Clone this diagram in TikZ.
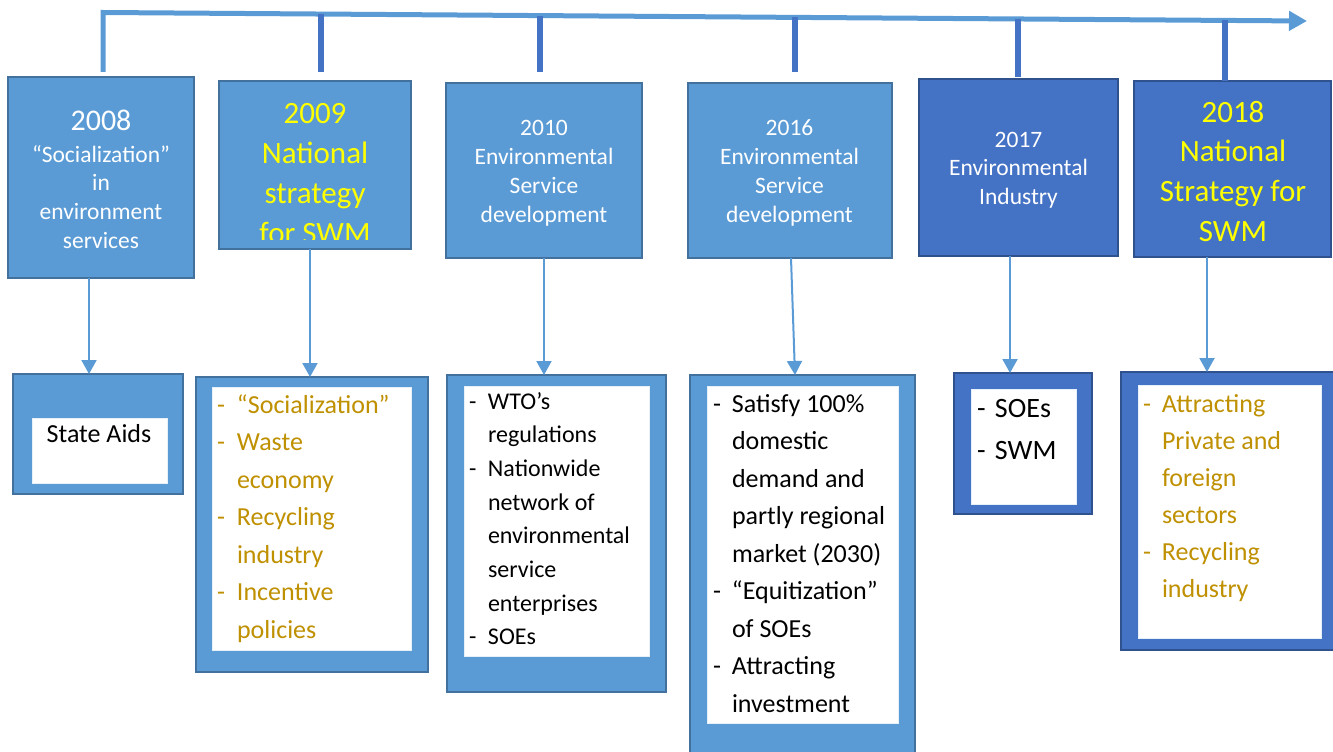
\documentclass[tikz,border=0pt]{standalone}
\usepackage{fontspec}
\setmainfont{Carlito}
\usetikzlibrary{arrows.meta,calc}
\definecolor{lb}{HTML}{5B9BD5}
\definecolor{lbd}{HTML}{41719C}
\definecolor{db}{HTML}{4472C4}
\definecolor{dbd}{HTML}{2F528F}
\definecolor{gold}{HTML}{BF9000}
\definecolor{yel}{HTML}{FFFF00}
\newlength\mydw
\newcommand\mydash{\makebox[\mydw][l]{-}}
\begin{document}
\begin{tikzpicture}[x=1pt,y=-1pt,
 box/.style={rectangle, inner sep=0pt, outer sep=0pt, line width=2.5pt, anchor=north west},
 lbox/.style={box, fill=lb, draw=lbd},
 dbox/.style={box, fill=db, draw=dbd},
 inbox/.style={box, fill=white, draw=white!85!lb, line width=0.6pt},
 txt/.style={inner sep=0pt, outer sep=0pt, anchor=base},
 ltxt/.style={inner sep=0pt, outer sep=0pt, anchor=base west},
 arr/.style={draw=lb, line width=2pt, -{Triangle[length=14pt,width=15pt]}},
 tline/.style={draw=lb, line width=5pt, -{Triangle[length=18pt,width=19pt]}},
 tickline/.style={draw=db, line width=5.5pt},
]
\useasboundingbox (0,0) rectangle (1333,752);

% ---------- top boxes ----------
\node[lbox, minimum width=186pt, minimum height=201pt] (t8) at (8,77) {};
\node[lbox, minimum width=192pt, minimum height=168pt] (t9) at (219,81) {};
\node[lbox, minimum width=196pt, minimum height=175pt] (t10) at (446,83) {};
\node[lbox, minimum width=204pt, minimum height=175pt] (t16) at (688,83) {};
\node[dbox, minimum width=199pt, minimum height=177pt] (t17) at (919,79) {};
\node[dbox, minimum width=197pt, minimum height=176pt] (t18) at (1134,81) {};

\node[txt, text=white, font=\fontsize{23.5}{28.7}\selectfont] (t8t) at (101,130)
 {\begin{tabular}[t]{@{}c@{}}{\fontsize{30}{32}\selectfont 2008}\\[3.3pt] “Socialization”\\ in\\ environment\\ services\end{tabular}};
\begin{scope}
\clip (221,83) rectangle (409,239);
\node[txt, text=yel, font=\fontsize{31}{40}\selectfont] (t9t) at (315,123)
 {\begin{tabular}[t]{@{}c@{}}2009\\ National\\ strategy\\ for SWM\end{tabular}};
\end{scope}
\node[txt, text=white, font=\fontsize{23.5}{29.3}\selectfont] (t10t) at (544,135)
 {\begin{tabular}[t]{@{}c@{}}2010\\ Environmental\\ Service\\ development\end{tabular}};
\node[txt, text=white, font=\fontsize{23.5}{29.3}\selectfont] (t16t) at (789.5,135)
 {\begin{tabular}[t]{@{}c@{}}2016\\ Environmental\\ Service\\ development\end{tabular}};
\node[txt, text=white, font=\fontsize{23.5}{28.7}\selectfont] (t17t) at (1018.5,147)
 {\begin{tabular}[t]{@{}c@{}}2017\\ Environmental\\ Industry\end{tabular}};
\node[txt, text=yel, font=\fontsize{31}{39.7}\selectfont] (t18t) at (1233,122)
 {\begin{tabular}[t]{@{}c@{}}2018\\ National\\ Strategy for\\ SWM\end{tabular}};

% ---------- timeline ----------
\coordinate (tl0) at (103,72);
\coordinate (tl1) at (103,12.5);
\coordinate (tl2) at (1307,21);
\draw[tline] (tl0) -- (tl1) -- (tl2);

\coordinate (k9) at (321,14);
\coordinate (k10) at (540,15.6);
\coordinate (k16) at (795,17.4);
\coordinate (k17) at (1018,19);
\coordinate (k18) at (1225,20.4);
\coordinate (e9) at ([yshift=9pt]t9.north);
\coordinate (e10) at ([yshift=11pt]t10.north);
\coordinate (e16) at ([yshift=11pt]t16.north);
\coordinate (e17) at ([yshift=2pt]t17.north);
\coordinate (e18) at (t18.north);
\draw[tickline] (k9) -- (k9 |- e9);
\draw[tickline] (k10) -- (k10 |- e10);
\draw[tickline] (k16) -- (k16 |- e16);
\draw[tickline] (k17) -- (k17 |- e17);
\draw[tickline] (k18) -- (k18 |- e18);

% ---------- lower boxes ----------
\node[lbox, line width=2pt, minimum width=170pt, minimum height=120pt] (l8) at (13,374) {};
\node[inbox, minimum width=135pt, minimum height=65pt] (i8) at (32,418) {};
\node[lbox, line width=2pt, minimum width=232pt, minimum height=295pt] (l9) at (196,377) {};
\node[inbox, minimum width=199pt, minimum height=263pt] (i9) at (212,387) {};
\node[lbox, line width=2pt, minimum width=219pt, minimum height=317pt] (l10) at (447,375) {};
\node[inbox, minimum width=185pt, minimum height=270pt] (i10) at (464,386) {};
\node[lbox, line width=2pt, minimum width=225pt, minimum height=390pt] (l16) at (690,375) {};
\node[inbox, minimum width=191pt, minimum height=337pt] (i16) at (707,386) {};
\node[dbox, line width=2pt, minimum width=138pt, minimum height=141pt] (l17) at (954,373) {};
\node[inbox, minimum width=105pt, minimum height=115pt] (i17) at (971,389) {};
\node[dbox, line width=2pt, minimum width=226pt, minimum height=278pt] (l18) at (1121,372) {};
\node[inbox, minimum width=183pt, minimum height=253pt] (i18) at (1138,385) {};

\node[txt, font=\fontsize{26}{30}\selectfont] (l8t) at (99,442) {State Aids};

\node[ltxt, text=gold, font=\fontsize{26}{37.5}\selectfont] (l9t) at (217,413)
 {\setlength\mydw{20pt}\begin{tabular}[t]{@{}l@{}l@{}}
 \mydash & “Socialization”\\
 \mydash & Waste\\ & economy\\
 \mydash & Recycling\\ & industry\\
 \mydash & Incentive\\ & policies\end{tabular}};

\node[ltxt, font=\fontsize{24}{33.7}\selectfont] (l10t) at (469,409)
 {\setlength\mydw{19pt}\begin{tabular}[t]{@{}l@{}l@{}}
 \mydash & WTO’s\\ & regulations\\
 \mydash & Nationwide\\ & network of\\ & environmental\\ & service\\ & enterprises\\
 \mydash & SOEs\end{tabular}};

\node[ltxt, font=\fontsize{26}{37.5}\selectfont] (l16t) at (713,412)
 {\setlength\mydw{19pt}\begin{tabular}[t]{@{}l@{}l@{}}
 \mydash & Satisfy 100\%\\ & domestic\\ & demand and\\ & partly regional\\ & market (2030)\\
 \mydash & “Equitization”\\ & of SOEs\\
 \mydash & Attracting\\ & investment\end{tabular}};

\node[ltxt, font=\fontsize{28}{42}\selectfont] (l17t) at (977,417)
 {\setlength\mydw{18pt}\begin{tabular}[t]{@{}l@{}l@{}}
 \mydash & SOEs\\
 \mydash & SWM\end{tabular}};

\node[ltxt, text=gold, font=\fontsize{26}{37}\selectfont] (l18t) at (1143,412)
 {\setlength\mydw{19pt}\begin{tabular}[t]{@{}l@{}l@{}}
 \mydash & Attracting\\ & Private and\\ & foreign\\ & sectors\\
 \mydash & Recycling\\ & industry\end{tabular}};

% ---------- arrows ----------
\draw[arr] ([xshift=-12pt]t8.south) -- ([xshift=-9pt]l8.north);
\draw[arr] ([xshift=-5pt]t9.south) -- ([xshift=-2pt]l9.north);
\draw[arr] (t10.south) -- ([xshift=-12.5pt]l10.north);
\draw[arr] ([xshift=1pt]t16.south) -- ([xshift=-7.5pt]l16.north);
\draw[arr] ([xshift=-8.5pt]t17.south) -- ([xshift=-13pt]l17.north);
\draw[arr] ([xshift=-25.5pt]t18.south) -- ([xshift=-27pt]l18.north);
\end{tikzpicture}
\end{document}
